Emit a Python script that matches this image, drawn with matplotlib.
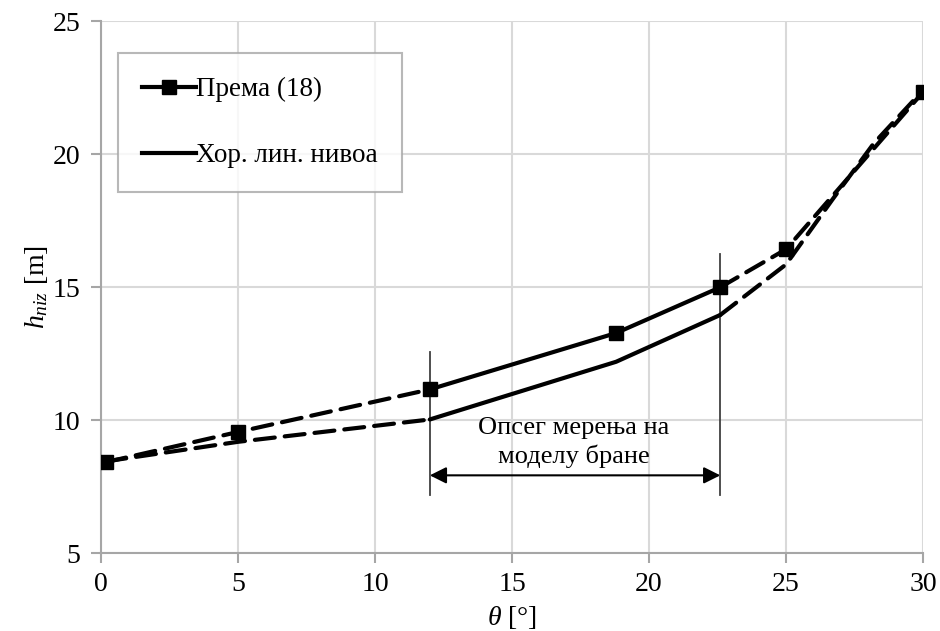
import numpy as np
import matplotlib.pyplot as plt
from matplotlib.lines import Line2D

plt.rcParams['font.family'] = ['Liberation Serif', 'DejaVu Serif']
plt.rcParams['mathtext.fontset'] = 'custom'
plt.rcParams['mathtext.it'] = 'Liberation Serif:italic'
plt.rcParams['mathtext.rm'] = 'Liberation Serif'

# Према (18)
prema_x = [0.2, 5.0, 12.0, 18.8, 22.6, 25.0, 30.0]
prema_y = [8.42, 9.55, 11.15, 13.27, 14.99, 16.42, 22.33]

# Хор. лин. нивоа
hor_x = [0.2, 5.0, 12.0, 18.8, 22.6, 25.0, 26.7, 28.2, 30.0]
hor_y = [8.45, 9.18, 10.02, 12.19, 13.95, 15.85, 18.3, 20.4, 22.4]

# measurement range on the dam model
range_lo, range_hi = 12.0, 22.6
range_label = "Опсег мерења на\nмоделу бране"

fig = plt.figure(figsize=(9.4, 6.31), dpi=100)
ax = fig.add_axes([0.1074, 0.1236, 0.8746, 0.8431])

lw = 3
dash = (4.8, 2.4)

def draw_series(xs, ys, lo, hi, marker):
    xs = np.array(xs); ys = np.array(ys)
    i_lo = int(np.where(np.isclose(xs, lo))[0][0])
    i_hi = int(np.where(np.isclose(xs, hi))[0][0])
    ax.plot(xs[:i_lo + 1], ys[:i_lo + 1], color='black', lw=lw, dashes=dash,
            solid_capstyle='round', dash_capstyle='round', zorder=3)
    ax.plot(xs[i_lo:i_hi + 1], ys[i_lo:i_hi + 1], color='black', lw=lw,
            solid_capstyle='round', zorder=3)
    ax.plot(xs[i_hi:], ys[i_hi:], color='black', lw=lw, dashes=dash,
            dash_capstyle='round', zorder=3)
    if marker:
        ax.plot(xs, ys, ls='none', marker='s', ms=10, color='black', zorder=4)

draw_series(prema_x, prema_y, range_lo, range_hi, True)
draw_series(hor_x, hor_y, range_lo, range_hi, False)

# range markers
ax.plot([range_lo, range_lo], [7.18, 12.55], color='#404040', lw=1.3, zorder=2)
ax.plot([range_hi, range_hi], [7.18, 16.24], color='#404040', lw=1.3, zorder=2)
ax.annotate('', xy=(range_lo, 7.92), xytext=(range_hi, 7.92),
            arrowprops=dict(arrowstyle='<|-|>', color='black', lw=1.5,
                            mutation_scale=25, shrinkA=0, shrinkB=0), zorder=3)
ax.text((range_lo + range_hi) / 2 - 0.05, 9.15, range_label, ha='center', va='center',
        fontsize=19, linespacing=1.3)

ax.set_xlim(0, 30)
ax.set_ylim(5, 25)
ax.set_xticks(np.arange(0, 31, 5))
ax.set_yticks(np.arange(5, 26, 5))
ax.grid(True, color='#d9d9d9', lw=1.5)
ax.set_axisbelow(True)
for s in ['top', 'right']:
    ax.spines[s].set_visible(False)
for s in ['left', 'bottom']:
    ax.spines[s].set_color('#a6a6a6')
    ax.spines[s].set_linewidth(1.5)
ax.tick_params(colors='#a6a6a6', labelcolor='black', labelsize=20,
               length=7, width=1.5, direction='out')
ax.tick_params(axis='y', pad=8)
ax.tick_params(axis='x', pad=7)

ax.set_xlabel(r'$\it{\theta}$ [°]', fontsize=20, labelpad=5)
ax.set_ylabel(r'$h_{niz}$ [m]', fontsize=20, labelpad=2)

handles = [Line2D([], [], color='black', lw=lw, marker='s', ms=10),
           Line2D([], [], color='black', lw=lw)]
leg = ax.legend(handles, ['Према (18)', 'Хор. лин. нивоа'],
                loc='upper left', bbox_to_anchor=(0.0205, 0.94),
                fontsize=19.5, frameon=True, fancybox=False, handlelength=2.0,
                handletextpad=0.0, labelspacing=1.5, borderpad=0.9,
                borderaxespad=0)
leg.get_frame().set_edgecolor('#a6a6a6')
leg.get_frame().set_linewidth(1.5)

fig.savefig('out.png', dpi=100)
